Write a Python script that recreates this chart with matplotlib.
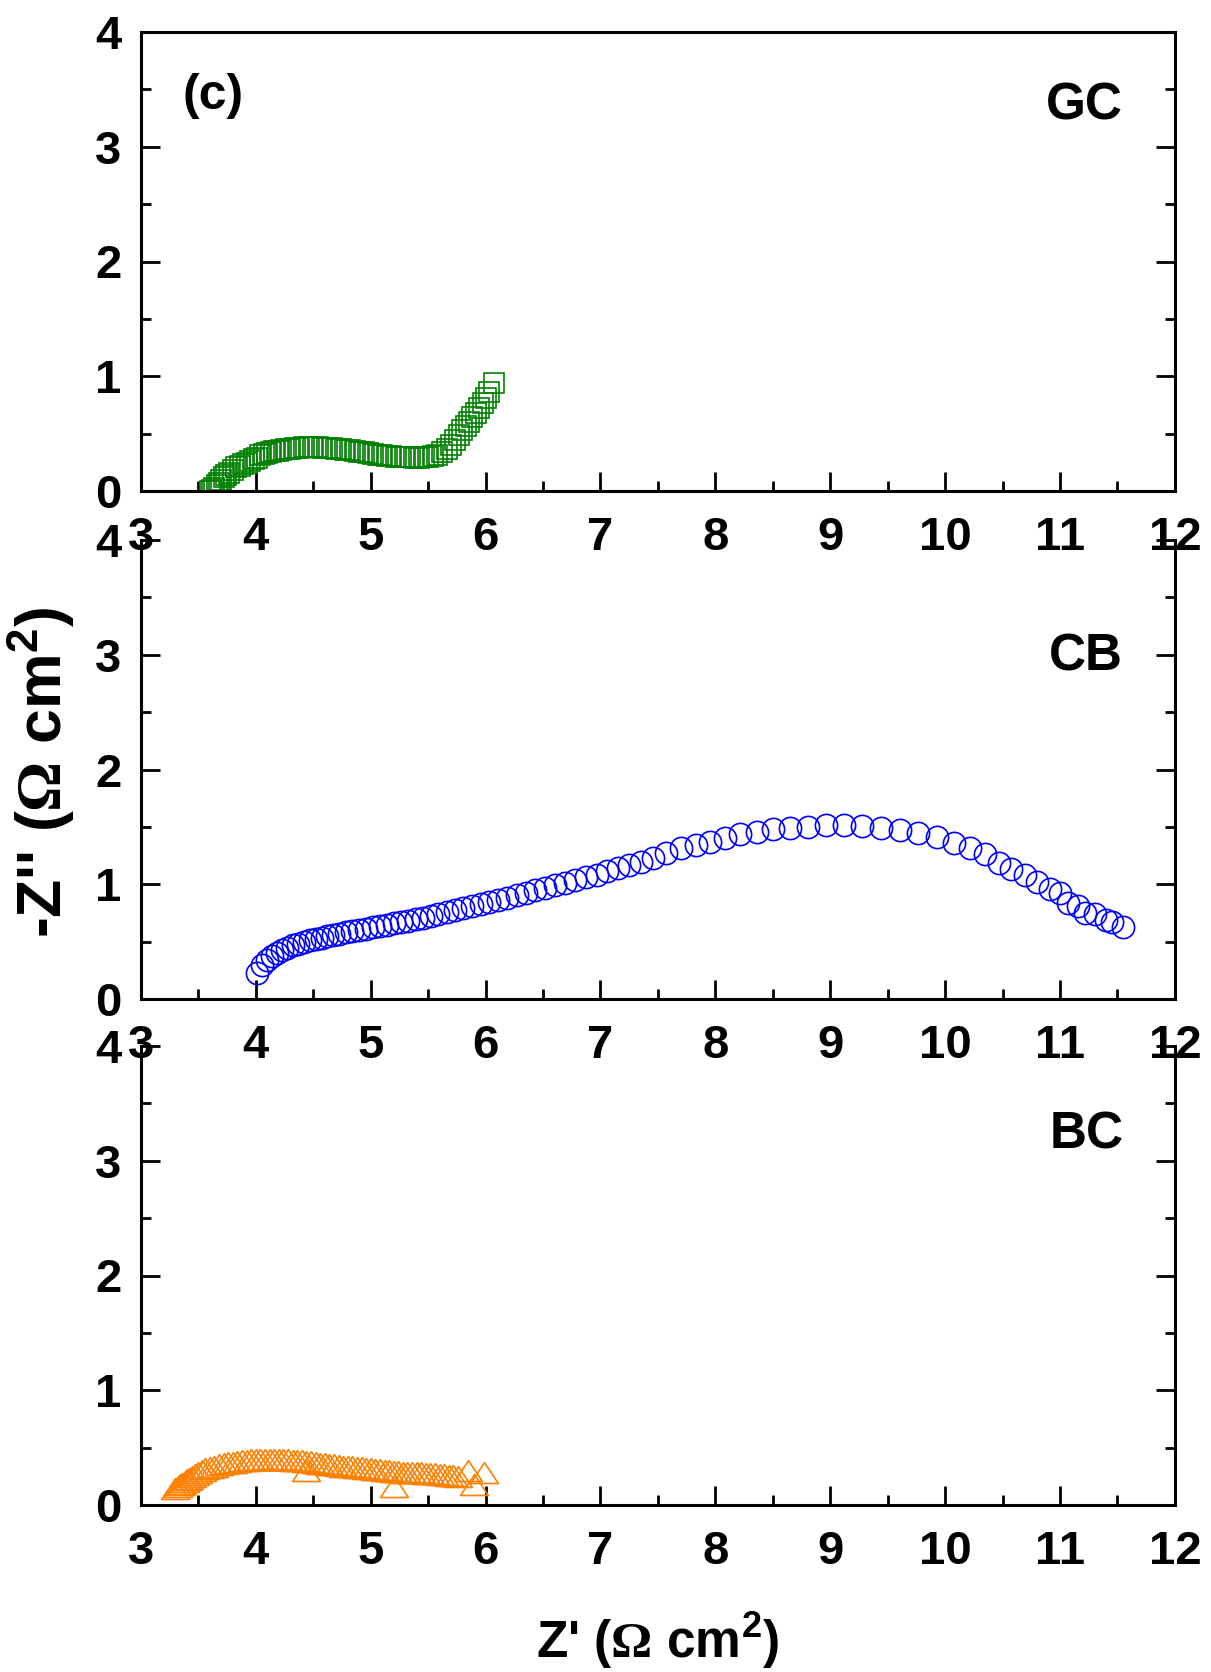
import matplotlib
matplotlib.use("Agg")
import matplotlib.pyplot as plt
from matplotlib.ticker import MultipleLocator
from matplotlib.path import Path

plt.rcParams['font.family'] = ['Liberation Sans', 'DejaVu Sans']
plt.rcParams['font.weight'] = 'bold'
plt.rcParams['mathtext.fontset'] = 'custom'
plt.rcParams['mathtext.rm'] = 'Liberation Serif'
plt.rcParams['mathtext.bf'] = 'Liberation Sans:bold'

# ---------------- data ----------------
gc_x = [3.60, 3.62, 3.64, 3.66, 3.68, 3.70, 3.72, 3.74, 3.77, 3.80, 3.83, 3.86, 3.89, 3.92,
        3.95, 3.98, 4.01, 4.04, 4.07, 4.10, 4.13, 4.16, 4.19, 4.22, 4.26, 4.30, 4.34, 4.38,
        4.42, 4.46, 4.50, 4.54, 4.58, 4.62, 4.66, 4.70, 4.74, 4.78, 4.82, 4.86, 4.90, 4.94,
        4.98, 5.02, 5.06, 5.10, 5.14, 5.18, 5.22, 5.26, 5.30, 5.34, 5.38, 5.42, 5.46, 5.50,
        5.54, 5.58, 5.62, 5.66, 5.70, 5.735, 5.765, 5.795, 5.825, 5.855, 5.885, 5.915, 5.945,
        5.975, 6.00, 6.03, 6.07]
gc_y = [0.00, 0.01, 0.03, 0.05, 0.07, 0.095, 0.12, 0.14, 0.16, 0.185, 0.205, 0.22, 0.235, 0.248,
        0.258, 0.275, 0.29, 0.31, 0.322, 0.33, 0.338, 0.346, 0.352, 0.358, 0.364, 0.37, 0.374, 0.378,
        0.381, 0.382, 0.382, 0.381, 0.379, 0.377, 0.374, 0.37, 0.365, 0.36, 0.354, 0.348, 0.342, 0.336,
        0.33, 0.324, 0.318, 0.312, 0.307, 0.302, 0.298, 0.295, 0.293, 0.292, 0.291, 0.291, 0.292, 0.296,
        0.304, 0.318, 0.34, 0.37, 0.405, 0.446, 0.49, 0.53, 0.565, 0.605, 0.645, 0.68, 0.72,
        0.765, 0.81, 0.86, 0.943]

cb_x = [4.007, 4.05, 4.094, 4.137, 4.181, 4.224, 4.273, 4.326, 4.369, 4.419, 4.471, 4.523, 4.572,
        4.622, 4.674, 4.726, 4.784, 4.839, 4.90, 4.958, 5.016, 5.08, 5.138, 5.202, 5.26, 5.326,
        5.39, 5.457, 5.521, 5.588, 5.66, 5.733, 5.805, 5.878, 5.956, 6.031, 6.11, 6.188, 6.27,
        6.351, 6.432, 6.516, 6.603, 6.69, 6.777, 6.873, 6.966, 7.058, 7.154, 7.25, 7.349, 7.453,
        7.57, 7.705, 7.827, 7.955, 8.086, 8.218, 8.361, 8.505, 8.651, 8.804, 8.963, 9.118, 9.277,
        9.445, 9.603, 9.768, 9.927, 10.074, 10.214, 10.345, 10.467, 10.574, 10.696, 10.803, 10.91,
        11.002, 11.069, 11.16, 11.215, 11.301, 11.398, 11.453, 11.55]
cb_y = [0.225, 0.295, 0.34, 0.375, 0.402, 0.428, 0.448, 0.468, 0.482, 0.496, 0.51, 0.523, 0.535,
        0.547, 0.558, 0.57, 0.582, 0.593, 0.603, 0.613, 0.624, 0.635, 0.645, 0.658, 0.67, 0.683,
        0.696, 0.709, 0.724, 0.739, 0.757, 0.775, 0.793, 0.811, 0.83, 0.847, 0.865, 0.882, 0.902,
        0.923, 0.946, 0.967, 0.99, 1.013, 1.037, 1.06, 1.083, 1.112, 1.139, 1.168, 1.197, 1.226,
        1.27, 1.319, 1.339, 1.368, 1.406, 1.435, 1.456, 1.479, 1.491, 1.50, 1.514, 1.514, 1.508,
        1.494, 1.473, 1.444, 1.409, 1.363, 1.316, 1.26, 1.188, 1.135, 1.077, 1.018, 0.96,
        0.925, 0.838, 0.814, 0.75, 0.738, 0.691, 0.668, 0.628]

bc_x = [3.30, 3.32, 3.34, 3.36, 3.38, 3.40, 3.42, 3.44, 3.47, 3.50, 3.53, 3.56, 3.60, 3.64,
        3.68, 3.72, 3.76, 3.80, 3.84, 3.88, 3.92, 3.96, 4.00, 4.04, 4.08, 4.12, 4.16, 4.20,
        4.24, 4.28, 4.32, 4.36, 4.40, 4.44, 4.48, 4.52, 4.56, 4.60, 4.64, 4.68, 4.72, 4.76,
        4.80, 4.84, 4.88, 4.92, 4.96, 5.00, 5.04, 5.08, 5.12, 5.16, 5.20, 5.24, 5.28, 5.32,
        5.36, 5.40, 5.44, 5.48, 5.52, 5.56, 5.60, 5.64, 5.68, 5.72, 5.76,
        4.44, 5.20, 5.85, 5.90, 5.99]
bc_y = [0.14, 0.155, 0.17, 0.185, 0.20, 0.215, 0.23, 0.245, 0.265, 0.28, 0.295, 0.31, 0.323, 0.335,
        0.345, 0.355, 0.363, 0.37, 0.377, 0.383, 0.387, 0.39, 0.392, 0.393, 0.393, 0.392, 0.391, 0.39,
        0.389, 0.388, 0.387, 0.384, 0.38, 0.376, 0.371, 0.365, 0.36, 0.355, 0.35, 0.345, 0.34, 0.335,
        0.331, 0.327, 0.324, 0.321, 0.317, 0.313, 0.308, 0.303, 0.298, 0.293, 0.288, 0.285, 0.283, 0.281,
        0.279, 0.277, 0.275, 0.274, 0.271, 0.267, 0.263, 0.259, 0.255, 0.25, 0.245,
        0.30, 0.16, 0.30, 0.17, 0.28]

x_ticks = [3, 4, 5, 6, 7, 8, 9, 10, 11, 12]
y_ticks = [0, 1, 2, 3, 4]
sample_names = ["GC", "CB", "BC"]

# ---------------- figure ----------------
fig = plt.figure(figsize=(12.11, 16.72), dpi=100)
L, W, H = 0.1164, 0.8538, 459 / 1672
bottoms = [1 - 491 / 1672, 1 - 999 / 1672, 1 - 1505 / 1672]

tri = Path([(0, 0.78), (-1, -0.72), (1, -0.72), (0, 0.78)],
           [Path.MOVETO, Path.LINETO, Path.LINETO, Path.CLOSEPOLY])

series = [
    (gc_x, gc_y, 's', '#008000', 15),
    (cb_x, cb_y, 'o', '#0000FF', 16),
    (bc_x, bc_y, tri, '#FF8000', 20),
]
label_y = [3.24, 2.86, 3.11]

for i, (xs, ys, mk, col, ms) in enumerate(series):
    ax = fig.add_axes([L, bottoms[i], W, H])
    ax.set_facecolor('none')
    ax.plot(xs, ys, linestyle='none', marker=mk, markersize=ms,
            markerfacecolor='none', markeredgecolor=col, markeredgewidth=1.2)
    ax.set_xlim(3, 12)
    ax.set_ylim(0, 4)
    ax.set_xticks(x_ticks)
    ax.set_yticks(y_ticks)
    ax.xaxis.set_minor_locator(MultipleLocator(0.5))
    ax.yaxis.set_minor_locator(MultipleLocator(0.5))
    ax.tick_params(which='both', direction='in', top=False, right=True,
                   width=2, labelsize=34)
    ax.tick_params(axis='x', which='both', pad=18)
    ax.tick_params(axis='y', which='both', pad=14)
    ax.tick_params(which='major', length=14)
    ax.tick_params(which='minor', length=7)
    for s in ['left', 'right', 'bottom', 'top']:
        ax.spines[s].set_linewidth(2.2)
    if i > 0:
        ax.spines['top'].set_visible(False)
    for lab in ax.get_xticklabels() + ax.get_yticklabels():
        lab.set_fontweight('bold')
    ax.text(11.55, label_y[i], sample_names[i], ha='right', va='baseline',
            fontsize=37, fontweight='bold')
    if i == 0:
        ax.text(3.63, 3.44, "(c)", ha='center', va='center',
                fontsize=36, fontweight='bold')

fig.text(0.5434, 0.0084, "Z' (" + r"$\mathrm{\Omega}$" + " cm" + r"$^{\mathbf{2}}$" + ")",
         ha='center', va='baseline', fontsize=37, fontweight='bold')
fig.text(0.034, 0.5377, "-Z'' (" + r"$\mathrm{\Omega}$" + " cm" + r"$^{\mathbf{2}}$" + ")",
         ha='center', va='center', rotation=90, fontsize=45, fontweight='bold')

fig.savefig("out.png", dpi=100)
